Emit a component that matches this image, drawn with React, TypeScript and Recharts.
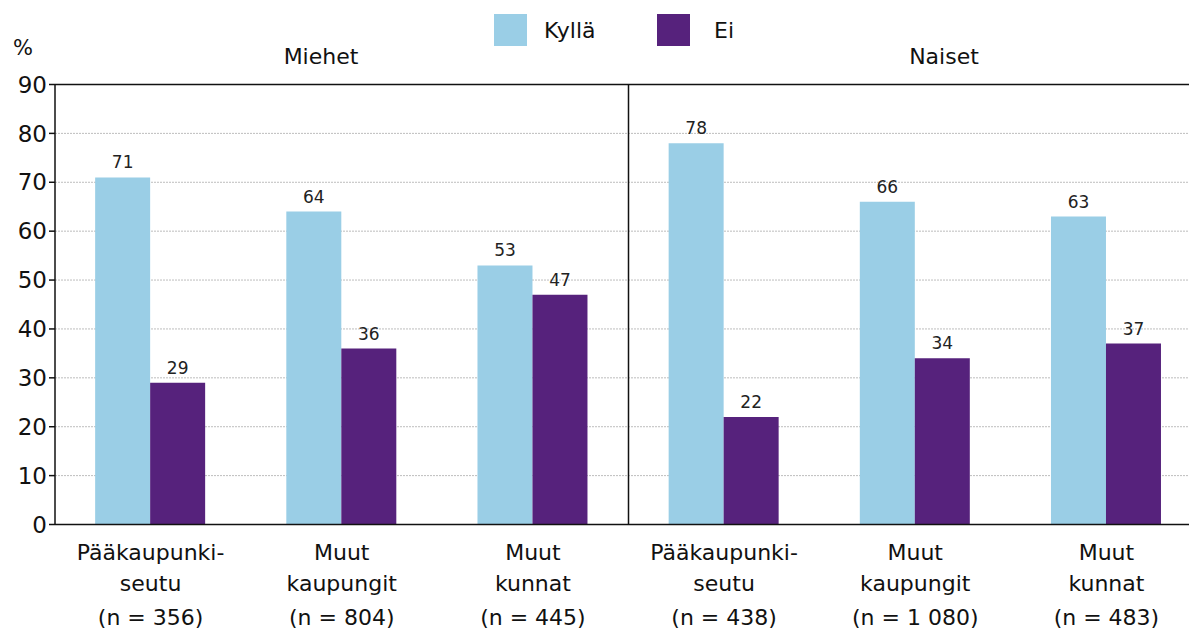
import React from 'react';
import { BarChart, Bar, XAxis, YAxis, CartesianGrid, ReferenceLine, LabelList } from 'recharts';

const line1 = ['Pääkaupunki-', 'Muut', 'Muut', 'Pääkaupunki-', 'Muut', 'Muut'];
const line2 = ['seutu', 'kaupungit', 'kunnat', 'seutu', 'kaupungit', 'kunnat'];
const nLabels = ['(n = 356)', '(n = 804)', '(n = 445)', '(n = 438)', '(n = 1 080)', '(n = 483)'];
const kylla = [71, 64, 53, 78, 66, 63];
const ei = [29, 36, 47, 22, 34, 37];
const yTicks = [0, 10, 20, 30, 40, 50, 60, 70, 80, 90];
const seriesNames = ['Kyllä', 'Ei'];
const seriesColors = ['#9ACEE6', '#56227C'];
const groupTitles = ['Miehet', 'Naiset'];

const data = line1.map((_, i) => ({ key: `c${i}`, kylla: kylla[i], ei: ei[i] }));

const FONT = '"DejaVu Sans", sans-serif';

const CatTick = (props: any) => {
  const { x, y, payload } = props;
  const i = payload && typeof payload.index === 'number' ? payload.index : props.index;
  return (
    <g>
      <text x={x} y={y + 27.5} textAnchor="middle" fontFamily={FONT} fontSize={22} fill="#111">{line1[i]}</text>
      <text x={x} y={y + 58.5} textAnchor="middle" fontFamily={FONT} fontSize={22} fill="#111">{line2[i]}</text>
      <text x={x} y={y + 92.5} textAnchor="middle" fontFamily={FONT} fontSize={22} fill="#111">{nLabels[i]}</text>
    </g>
  );
};

export default function App() {
  return (
    <div style={{ position: 'absolute', left: 0, top: 0, width: 1189, height: 630, overflow: 'hidden', background: '#fff' }}>
      <BarChart
        width={1210}
        height={630}
        data={data}
        margin={{ top: 84.5, right: 8, left: 0, bottom: 0 }}
        barCategoryGap="21%"
        barGap={0}
      >
        <CartesianGrid vertical={false} stroke="#bdbdbd" strokeDasharray="2 1" />
        <XAxis
          dataKey="key"
          height={105.5}
          tickLine={false}
          axisLine={{ stroke: '#111', strokeWidth: 1.5 }}
          tick={<CatTick />}
          interval={0}
        />
        <YAxis
          width={55}
          domain={[0, 90]}
          ticks={yTicks}
          interval={0}
          tickSize={6}
          axisLine={{ stroke: '#111', strokeWidth: 1.5 }}
          tickLine={{ stroke: '#111', strokeWidth: 1.5 }}
          tick={{ fontFamily: FONT, fontSize: 23, fill: '#111' }}
        />
        <ReferenceLine y={90} stroke="#111" strokeWidth={1.5} />
        <ReferenceLine x="c3" position="start" stroke="#111" strokeWidth={1.5} />
        <Bar dataKey="kylla" name={seriesNames[0]} fill={seriesColors[0]} isAnimationActive={false}>
          <LabelList dataKey="kylla" position="top" offset={9} style={{ fontFamily: FONT, fontSize: 17, fill: '#222' }} />
        </Bar>
        <Bar dataKey="ei" name={seriesNames[1]} fill={seriesColors[1]} isAnimationActive={false}>
          <LabelList dataKey="ei" position="top" offset={9} style={{ fontFamily: FONT, fontSize: 17, fill: '#222' }} />
        </Bar>
      </BarChart>
      <svg width={1189} height={630} style={{ position: 'absolute', left: 0, top: 0, pointerEvents: 'none' }}>
        <text x={13} y={55} fontFamily={FONT} fontSize={21} fill="#111">%</text>
        <text x={321} y={64} textAnchor="middle" fontFamily={FONT} fontSize={22} fill="#111">{groupTitles[0]}</text>
        <text x={944} y={64} textAnchor="middle" fontFamily={FONT} fontSize={22} fill="#111">{groupTitles[1]}</text>
        <rect x={494} y={14} width={33} height={32} fill={seriesColors[0]} />
        <text x={544} y={38} fontFamily={FONT} fontSize={22} fill="#111">{seriesNames[0]}</text>
        <rect x={657} y={14} width={33} height={32} fill={seriesColors[1]} />
        <text x={714} y={38} fontFamily={FONT} fontSize={22} fill="#111">{seriesNames[1]}</text>
      </svg>
    </div>
  );
}
